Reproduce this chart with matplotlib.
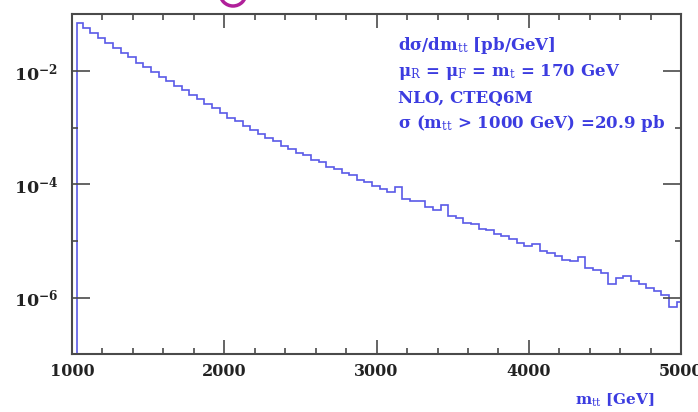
import matplotlib
matplotlib.use("Agg")
import matplotlib.pyplot as plt
from matplotlib.ticker import FixedLocator, NullFormatter
from matplotlib.patches import Ellipse
import numpy as np

# m_tt bin edges [GeV] and log10(dsigma/dm_tt) per bin
edges = [1035] + list(range(1070, 4971, 50)) + [5000]
log_dsig = [-1.15, -1.24, -1.33, -1.42, -1.50, -1.59, -1.68, -1.76, -1.85, -1.93,
            -2.02, -2.10, -2.18, -2.26, -2.34, -2.42, -2.50, -2.58, -2.66, -2.74,
            -2.82, -2.89, -2.97, -3.04, -3.11, -3.18, -3.24, -3.32, -3.37, -3.44,
            -3.49, -3.57, -3.61, -3.69, -3.73, -3.80, -3.84, -3.92, -3.95, -4.02,
            -4.08, -4.13, -4.05, -4.25, -4.30, -4.29, -4.40, -4.45, -4.37, -4.56,
            -4.60, -4.68, -4.70, -4.78, -4.81, -4.88, -4.91, -4.96, -5.03, -5.09,
            -5.05, -5.17, -5.22, -5.26, -5.33, -5.36, -5.29, -5.48, -5.51, -5.57,
            -5.75, -5.66, -5.62, -5.70, -5.76, -5.83, -5.88, -5.96, -6.17, -6.08]

xticks = [1000, 2000, 3000, 4000, 5000]
yticks = [1e-6, 1e-4, 1e-2]
ytick_minor = [1e-7, 1e-5, 1e-3, 1e-1]

notes = [r"d$\sigma$/dm$_{\rm tt}$ [pb/GeV]",
         r"$\mu_{\rm R}$ = $\mu_{\rm F}$ = m$_{\rm t}$ = 170 GeV",
         "NLO, CTEQ6M",
         r"$\sigma$ (m$_{\rm tt}$ > 1000 GeV) =20.9 pb"]

plt.rcParams["font.family"] = "DejaVu Serif"
plt.rcParams["mathtext.fontset"] = "dejavuserif"
plt.rcParams["mathtext.default"] = "bf"

blue = "#3c3ce0"
axcol = "#4a4a4a"

fig = plt.figure(figsize=(6.98, 4.12), dpi=100)
ax = fig.add_axes([0.103, 0.140, 0.873, 0.825])

ax.stairs(10 ** np.array(log_dsig), edges, baseline=1e-7, color="#5a5ae8", lw=1.2)

ax.set_yscale("log")
ax.set_xlim(1000, 5000)
ax.set_ylim(1e-7, 1e-1)

ax.xaxis.set_major_locator(FixedLocator(xticks))
ax.xaxis.set_minor_locator(FixedLocator(range(1000, 5001, 200)))
ax.set_xticklabels([str(v) for v in xticks])
ax.yaxis.set_major_locator(FixedLocator(yticks))
ax.yaxis.set_minor_locator(FixedLocator(ytick_minor))
ax.yaxis.set_minor_formatter(NullFormatter())
ax.set_yticklabels([r"10$^{-6}$", r"10$^{-4}$", r"10$^{-2}$"])

ax.tick_params(which="both", direction="in", top=True, right=True,
               colors=axcol, labelcolor="#222222", width=1.2)
ax.tick_params(axis="x", which="major", length=10, pad=6, labelsize=11.5)
ax.tick_params(axis="y", which="major", length=13, pad=10, labelsize=12.5)
ax.tick_params(which="minor", length=4)
for lab in ax.get_xticklabels() + ax.get_yticklabels():
    lab.set_fontweight("bold")
for s in ax.spines.values():
    s.set_color(axcol)
    s.set_linewidth(1.5)

for i, t in enumerate(notes):
    fig.text(398 / 698, 1 - (46 + i * 26) / 412, t, color=blue, fontsize=12,
             fontweight="bold", va="center", ha="left")

fig.text(655 / 698, 1 - 400 / 412, r"m$_{\rm tt}$ [GeV]", color=blue, fontsize=11,
         fontweight="bold", ha="right", va="center")

# partial magenta mark cut by the top edge
fig.patches.append(Ellipse((233 / 698, 1 + 7 / 412), 26 / 698, 26 / 412,
                           transform=fig.transFigure, fill=False, ec="#b0209a", lw=2.5))

fig.savefig("out.png", dpi=100)
